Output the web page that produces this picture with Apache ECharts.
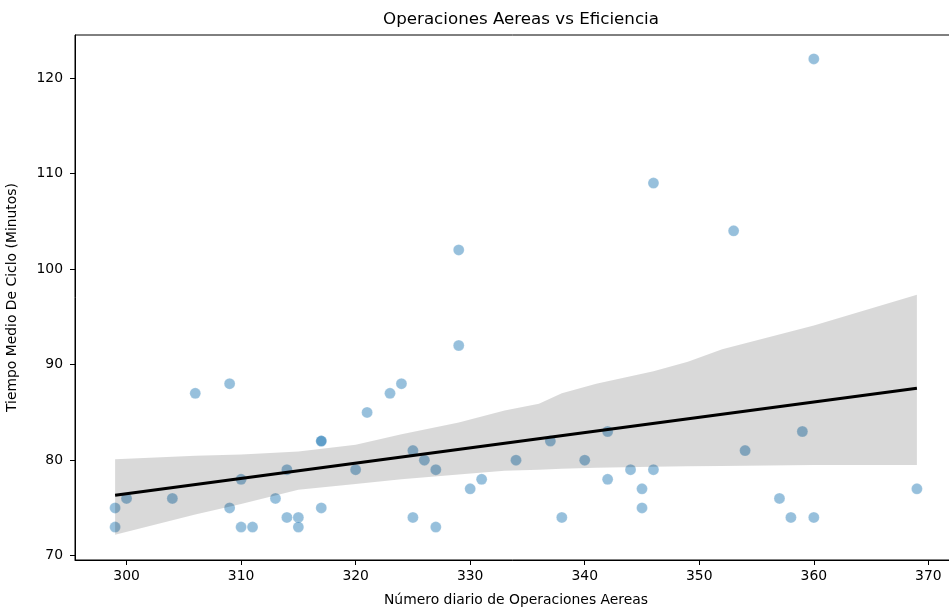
<!DOCTYPE html>
<html>
<head>
<meta charset="utf-8">
<script src="https://cdn.jsdelivr.net/npm/echarts@6/dist/echarts.min.js"></script>
<style>
html,body{margin:0;padding:0;background:#fff;}
#chart{width:949px;height:614px;}
</style>
</head>
<body>
<div id="chart"></div>
<script>
// Scatter data: daily air operations vs mean cycle time
const opsX = [299,299,300,304,306,309,309,310,310,311,313,314,314,315,315,317,317,317,320,321,323,324,325,325,326,327,327,329,329,330,331,334,337,338,340,342,342,344,345,345,346,346,353,354,357,358,359,360,360,369];
const cycleY = [75,73,76,76,87,88,75,78,73,73,76,79,74,74,73,82,82,75,79,85,87,88,81,74,80,79,73,102,92,77,78,80,82,74,80,83,78,79,77,75,109,79,104,81,76,74,83,122,74,77];

// Regression line
const regX = [299, 369];
const regY = [76.33, 87.52];

// Confidence band
const bandX     = [299, 306, 310, 315, 320, 324, 329, 333, 336, 338, 341, 346, 349, 352, 360, 369];
const bandUpper = [80.1, 80.45, 80.6, 80.9, 81.6, 82.7, 83.95, 85.2, 85.9, 87.0, 88.0, 89.3, 90.3, 91.6, 94.1, 97.3];
const bandLower = [72.2, 74.3, 75.4, 76.9, 77.5, 78.0, 78.5, 78.9, 79.0, 79.1, 79.2, 79.3, 79.35, 79.4, 79.5, 79.5];

// Tick labels
const xTicks = [300, 310, 320, 330, 340, 350, 360, 370];
const yTicks = [70, 80, 90, 100, 110, 120];

const chart = echarts.init(document.getElementById('chart'), null, {renderer: 'canvas'});
const font = 'DejaVu Sans';

const scatterData = opsX.map((x, i) => [x, cycleY[i]]);
const lineData = regX.map((x, i) => [x, regY[i]]);

const option = {
  animation: false,
  backgroundColor: '#fff',
  title: {
    text: 'Operaciones Aereas vs Eficiencia',
    left: 516, top: 6, textAlign: 'center',
    textStyle: {fontFamily: font, fontSize: 16.7, fontWeight: 'normal', color: '#000'}
  },
  grid: {left: 75, top: 35, width: 882, height: 525, outerBoundsMode: 'none', containLabel: false,
         show: true, borderColor: '#000', borderWidth: 1, backgroundColor: 'transparent'},
  xAxis: {
    type: 'value', min: 295.5, max: 372.5,
    name: 'Número diario de Operaciones Aereas', nameLocation: 'middle', nameGap: 33,
    nameTextStyle: {fontFamily: font, fontSize: 13.9, color: '#000'},
    axisLine: {show: true, lineStyle: {color: '#000', width: 1}},
    axisTick: {show: true, length: 5, lineStyle: {color: '#000'}, customValues: xTicks},
    axisLabel: {fontFamily: font, fontSize: 13.9, color: '#000', margin: 9, customValues: xTicks},
    splitLine: {show: false}
  },
  yAxis: {
    type: 'value', min: 69.55, max: 124.5,
    name: 'Tiempo Medio De Ciclo (Minutos)', nameLocation: 'middle', nameGap: 56,
    nameTextStyle: {fontFamily: font, fontSize: 13.9, color: '#000'},
    axisLine: {show: true, lineStyle: {color: '#000', width: 1}},
    axisTick: {show: true, length: 5, lineStyle: {color: '#000'}, customValues: yTicks},
    axisLabel: {fontFamily: font, fontSize: 13.9, color: '#000', margin: 12, customValues: yTicks},
    splitLine: {show: false}
  },
  series: [
    {
      type: 'scatter', data: scatterData, symbolSize: 11, z: 2,
      itemStyle: {color: 'rgba(31,119,180,0.58)', borderColor: 'rgba(255,255,255,0.35)', borderWidth: 0.8}
    },
    {
      type: 'custom', z: 3, data: [0],
      renderItem: function (params, api) {
        const pts = [];
        for (let i = 0; i < bandX.length; i++) pts.push(api.coord([bandX[i], bandUpper[i]]));
        for (let i = bandX.length - 1; i >= 0; i--) pts.push(api.coord([bandX[i], bandLower[i]]));
        return {type: 'polygon', shape: {points: pts}, style: {fill: 'rgba(0,0,0,0.15)', stroke: null}};
      }
    },
    {
      type: 'line', data: lineData, z: 4, symbol: 'none',
      lineStyle: {color: '#000', width: 3}
    }
  ]
};
chart.setOption(option);
</script>
</body>
</html>
